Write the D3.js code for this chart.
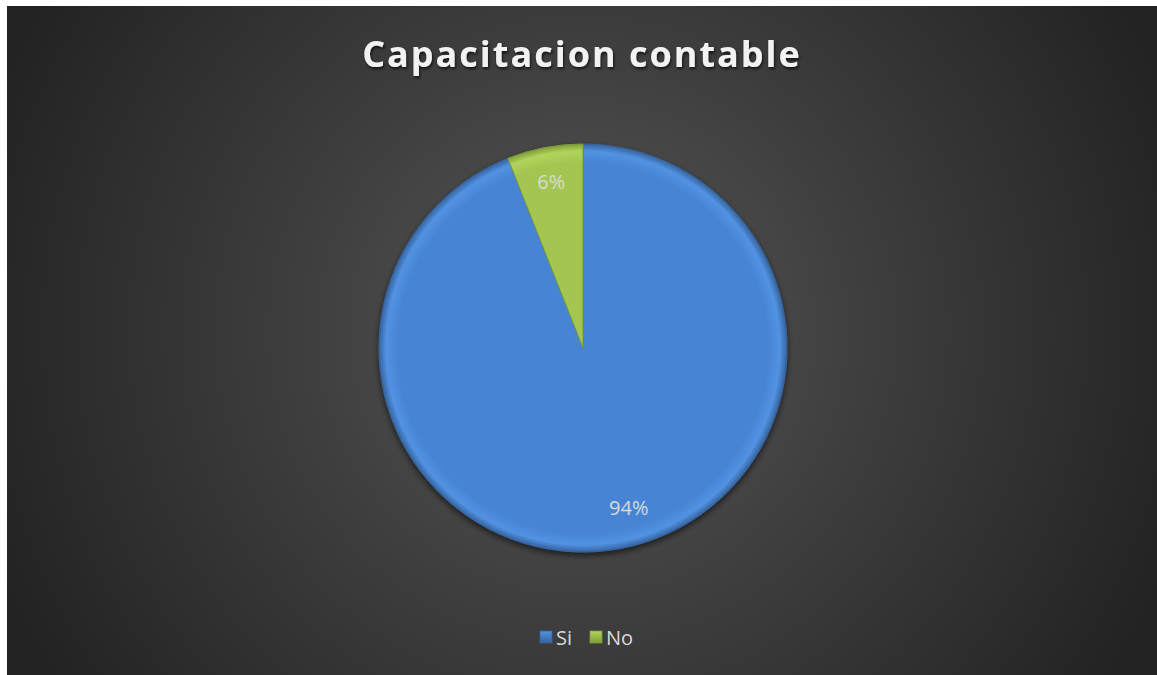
<!DOCTYPE html>
<html>
<head>
<meta charset="utf-8">
<script src="https://cdn.jsdelivr.net/npm/d3@7"></script>
<style>
  html, body { margin: 0; padding: 0; background: #fff; }
  svg { display: block; }
</style>
</head>
<body>
<div id="chart"></div>
<script>
// data
const categories = ['Si', 'No'];
const values = [94, 6];
const labels = ['94%', '6%'];
const title = 'Capacitacion contable';

const W = 1157, H = 675;
const cx = 583, cy = 348, radius = 204;

const fills = {
  Si: {light: '#5292e2', mid: '#4785d4', dark: '#35649f'},
  No: {light: '#b2d45d', mid: '#a2c64f', dark: '#7f9e37'}
};

const svg = d3.select('#chart').append('svg')
  .attr('width', W)
  .attr('height', H);

const defs = svg.append('defs');

// background gradient
let bg = defs.append('radialGradient')
  .attr('id', 'bg')
  .attr('gradientUnits', 'userSpaceOnUse')
  .attr('cx', 582).attr('cy', 330).attr('r', 640);
bg.append('stop').attr('offset', '0%').attr('stop-color', '#575757');
bg.append('stop').attr('offset', '45%').attr('stop-color', '#3e3e3e');
bg.append('stop').attr('offset', '100%').attr('stop-color', '#222222');

// slice gradients live in the pie group's coordinates
categories.forEach(c => {
  let g = defs.append('radialGradient')
    .attr('id', `grad_${c}`)
    .attr('gradientUnits', 'userSpaceOnUse')
    .attr('cx', 0).attr('cy', 0).attr('r', radius);
  g.append('stop').attr('offset', '0%').attr('stop-color', fills[c].mid);
  g.append('stop').attr('offset', '91%').attr('stop-color', fills[c].mid);
  g.append('stop').attr('offset', '96.5%').attr('stop-color', fills[c].light);
  g.append('stop').attr('offset', '100%').attr('stop-color', fills[c].dark);

  let lg = defs.append('linearGradient')
    .attr('id', `leg_${c}`)
    .attr('x1', 0).attr('y1', 0).attr('x2', 0).attr('y2', 1);
  lg.append('stop').attr('offset', '0%').attr('stop-color', fills[c].light);
  lg.append('stop').attr('offset', '100%').attr('stop-color', fills[c].dark);
});

let shadow = defs.append('filter')
  .attr('id', 'shadow')
  .attr('x', '-20%').attr('y', '-20%').attr('width', '140%').attr('height', '140%');
shadow.append('feDropShadow')
  .attr('dx', 0).attr('dy', 3).attr('stdDeviation', 3)
  .attr('flood-color', '#000').attr('flood-opacity', 0.6);

let tshadow = defs.append('filter').attr('id', 'tshadow');
tshadow.append('feDropShadow')
  .attr('dx', 1).attr('dy', 2).attr('stdDeviation', 1.5)
  .attr('flood-color', '#000').attr('flood-opacity', 0.7);

svg.append('rect')
  .attr('x', 7).attr('y', 6)
  .attr('width', W - 7).attr('height', H - 6)
  .attr('fill', 'url(#bg)');

// title
svg.append('text')
  .attr('x', 582)
  .attr('y', 67)
  .attr('text-anchor', 'middle')
  .attr('font-family', 'Open Sans, sans-serif')
  .attr('font-weight', 'bold')
  .attr('font-size', 36)
  .attr('letter-spacing', 2)
  .attr('fill', '#f2f2f2')
  .attr('filter', 'url(#tshadow)')
  .text(title);

// pie
const data = categories.map((c, i) => ({name: c, value: values[i], label: labels[i]}));

let pie = d3.pie()
  .sort(null)
  .value(d => d.value);

let arc = d3.arc()
  .innerRadius(0)
  .outerRadius(radius);

let labelArc = d3.arc()
  .innerRadius(radius * 0.83)
  .outerRadius(radius * 0.83);

let g = svg.append('g')
  .attr('transform', `translate(${cx}, ${cy})`);

g.append('g')
  .attr('filter', 'url(#shadow)')
  .selectAll('path')
  .data(pie(data))
  .enter().append('path')
    .attr('d', arc)
    .attr('fill', d => `url(#grad_${d.data.name})`)
    .attr('stroke', d => fills[d.data.name].dark)
    .attr('stroke-width', 1)
    .attr('stroke-linejoin', 'round');

g.selectAll('.lbl')
  .data(pie(data))
  .enter().append('text')
    .attr('class', 'lbl')
    .attr('transform', d => {
      let [x, y] = labelArc.centroid(d);
      // big slice label sits a bit up and right, like Excel's best fit
      if (d.data.name === 'Si') { x += 14; y -= 6; }
      return `translate(${x}, ${y})`;
    })
    .attr('text-anchor', 'middle')
    .attr('dy', '0.35em')
    .attr('font-family', 'Open Sans, sans-serif')
    .attr('font-size', 20)
    .attr('fill', '#d9d9d9')
    .text(d => d.data.label);

// legend
let legendX = [540, 590];
let legend = svg.selectAll('.legend')
  .data(categories)
  .enter().append('g')
    .attr('class', 'legend')
    .attr('transform', (d, i) => `translate(${legendX[i]}, 631)`);

legend.append('rect')
  .attr('width', 12)
  .attr('height', 12)
  .attr('fill', d => `url(#leg_${d})`)
  .attr('stroke', d => fills[d].dark)
  .attr('stroke-width', 0.8);

legend.append('text')
  .attr('x', 16)
  .attr('y', 14)
  .attr('font-family', 'Open Sans, sans-serif')
  .attr('font-size', 20)
  .attr('fill', '#d9d9d9')
  .text(d => d);
</script>
</body>
</html>
